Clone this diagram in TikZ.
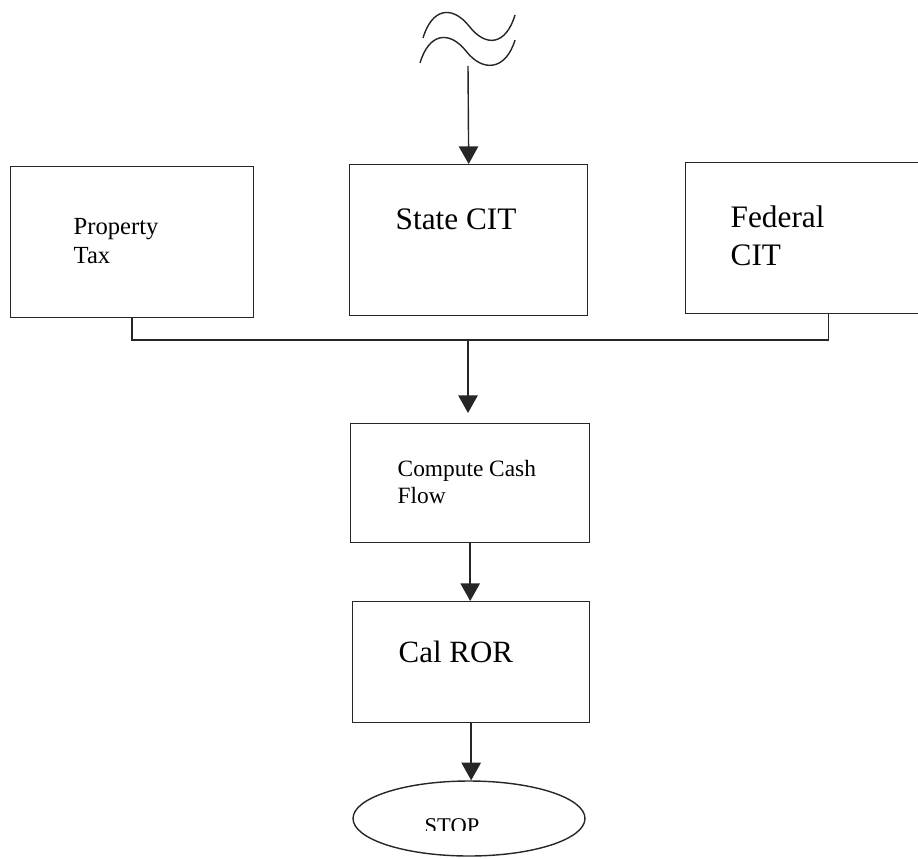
\documentclass[tikz,border=0pt]{standalone}
\usepackage{fontspec}
\setmainfont{Liberation Serif}
\usetikzlibrary{arrows.meta, shapes.geometric}

\begin{document}
\begin{tikzpicture}[x=0.02cm, y=-0.02cm, line width=0.8pt, color=black!85,
	box/.style={draw, rectangle, inner sep=0pt, anchor=north west},
	lbl/.style={anchor=base west, inner sep=0pt, align=left, text=black},
	flow/.style={-{Triangle[width=11pt,length=10pt]}}]
				\clip (0,0) rectangle (918,858);
				
				% wavy break above the state box
				\draw (423,38) .. controls (432,8) and (452,5) .. (469,26) .. controls (486,48) and (506,45) .. (515,15);
				\draw (420,63) .. controls (429,33) and (449,30) .. (466,51) .. controls (483,73) and (506,70) .. (515,40);
				\coordinate (src) at (468,66);
				
				\node (ptax) at (10,166)[box, minimum width=4.86cm, minimum height=3.02cm]{};
				\node (state) at (349,164)[box, minimum width=4.76cm, minimum height=3.02cm]{};
				\node (fed) at (685,162)[box, minimum width=5.72cm, minimum height=3.02cm]{};
				\node (cash) at (350,423)[box, minimum width=4.78cm, minimum height=2.38cm]{};
				\node (ror) at (352,601)[box, minimum width=4.74cm, minimum height=2.42cm]{};
				\node (stop) at (469,818.5)[draw, ellipse, inner sep=0pt, minimum width=4.64cm, minimum height=1.5cm]{};
				
				% multi-line labels sit on the baseline of their last line
				\node (ptaxtxt) at (73,263)[lbl, font=\fontsize{14}{16.4}\selectfont]{Property\\Tax};
				\node (statetxt) at (395,229)[lbl, font=\fontsize{17.8}{21}\selectfont]{State CIT};
				\node (fedtxt) at (730,265)[lbl, font=\fontsize{17.8}{21.6}\selectfont]{Federal\\CIT};
				\node (cashtxt) at (397,503)[lbl, font=\fontsize{13.3}{15.3}\selectfont]{Compute Cash\\Flow};
				\node (rortxt) at (398,662)[lbl, font=\fontsize{17.6}{21}\selectfont]{Cal ROR};
				\begin{scope}
					\clip (300,790) rectangle (640,830);
					\node (stoptxt) at (424,833)[lbl, font=\fontsize{12.8}{15}\selectfont]{STOP};
				\end{scope}
				
				\coordinate (bus) at (468,340);
				\draw[flow] (src)--(state.north);
				\draw (ptax.south) |- (bus);
				\draw (fed.south) |- (bus);
				\draw[flow, shorten >=0.2cm] (bus)--(bus |- cash.north);
				\draw[flow] (cash.south)--(cash.south |- ror.north);
				\draw[flow] (ror.south)--(ror.south |- stop.north);
			\end{tikzpicture}
\end{document}
